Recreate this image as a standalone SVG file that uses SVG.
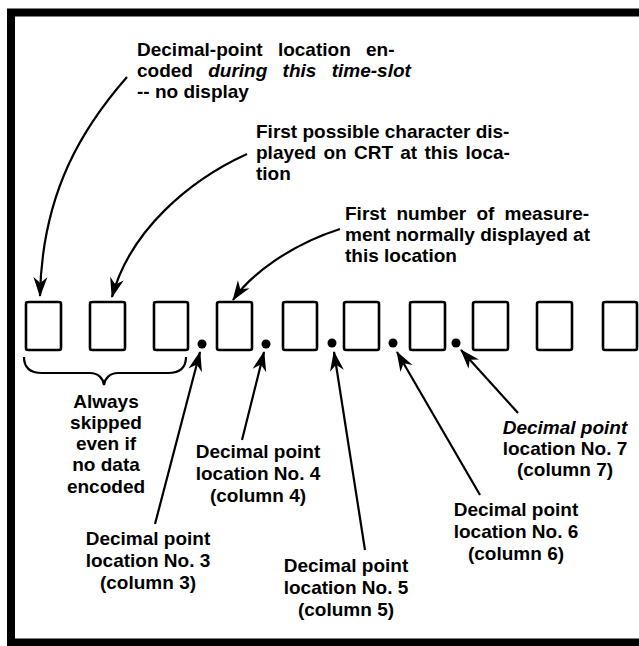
<svg xmlns="http://www.w3.org/2000/svg" width="639" height="646" viewBox="0 0 639 646">
<defs>
<marker id="ah" markerUnits="userSpaceOnUse" viewBox="-22 -9 24 18" refX="0" refY="0" markerWidth="24" markerHeight="18" orient="auto">
<path d="M1,0 L-19,-7 L-13,0 L-19,7 Z" fill="#000"/>
</marker>
</defs>
<style>
.t{font-family:"Liberation Sans",Arial,Helvetica,sans-serif;font-weight:bold;font-size:19px;fill:#000}
.c{text-anchor:middle}
.i{font-style:italic}
.box{fill:none;stroke:#000;stroke-width:2.6}
.ln{fill:none;stroke:#000;stroke-width:2.2}
.dot{fill:#000}
</style>
<rect width="639" height="646" fill="#fff"/>
<g id="frame"><path d="M639,12.5 H11 V642.5 H639" fill="none" stroke="#000" stroke-width="8"/></g>

<g id="box1"><rect class="box" x="26" y="302" width="35" height="48" rx="2"/></g>
<g id="box2"><rect class="box" x="90" y="302" width="35" height="48" rx="2"/></g>
<g id="box3"><rect class="box" x="154" y="302" width="34" height="48" rx="2"/></g>
<g id="box4"><rect class="box" x="217" y="302" width="35" height="48" rx="2"/></g>
<g id="box5"><rect class="box" x="283" y="302" width="34" height="48" rx="2"/></g>
<g id="box6"><rect class="box" x="344" y="302" width="35" height="48" rx="2"/></g>
<g id="box7"><rect class="box" x="410" y="302" width="35" height="48" rx="2"/></g>
<g id="box8"><rect class="box" x="473" y="302" width="35" height="48" rx="2"/></g>
<g id="box9"><rect class="box" x="537" y="302" width="35" height="48" rx="2"/></g>
<g id="box10"><rect class="box" x="603" y="302" width="34" height="48" rx="2"/></g>

<g id="dot3"><circle class="dot" cx="202" cy="344" r="4.5"/></g>
<g id="dot4"><circle class="dot" cx="266" cy="344" r="4.5"/></g>
<g id="dot5"><circle class="dot" cx="332" cy="343" r="4.5"/></g>
<g id="dot6"><circle class="dot" cx="393" cy="343" r="4.5"/></g>
<g id="dot7"><circle class="dot" cx="456" cy="343" r="4.5"/></g>

<g id="brace"><path class="ln" d="M24,357 C24,368 30,373 42,373 L90,373 C98,373 103,378 104,385 C105,378 110,373 118,373 L168,373 C180,373 186,368 186,357"/></g>

<g id="label-encoded">
<text class="t" x="137" y="56" word-spacing="10">Decimal-point location en-</text>
<text class="t" x="137" y="77" word-spacing="10">coded <tspan class="i">during this time-slot</tspan></text>
<text class="t" x="137" y="98">-- no display</text>
</g>
<g id="label-first-char">
<text class="t" x="256" y="138">First possible character dis-</text>
<text class="t" x="256" y="159" word-spacing="2">played on CRT at this loca-</text>
<text class="t" x="256" y="180">tion</text>
</g>
<g id="label-first-number">
<text class="t" x="345" y="220" word-spacing="5">First number of measure-</text>
<text class="t" x="345" y="241">ment normally displayed at</text>
<text class="t" x="345" y="262">this location</text>
</g>
<g id="label-skipped">
<text class="t c" x="106" y="408">Always</text>
<text class="t c" x="106" y="429">skipped</text>
<text class="t c" x="106" y="450">even if</text>
<text class="t c" x="106" y="471">no data</text>
<text class="t c" x="106" y="493">encoded</text>
</g>
<g id="label-dp3">
<text class="t c" x="148" y="545">Decimal point</text>
<text class="t c" x="148" y="567">location No. 3</text>
<text class="t c" x="148" y="589">(column 3)</text>
</g>
<g id="label-dp4">
<text class="t c" x="258" y="458">Decimal point</text>
<text class="t c" x="258" y="480">location No. 4</text>
<text class="t c" x="258" y="502">(column 4)</text>
</g>
<g id="label-dp5">
<text class="t c" x="346" y="572">Decimal point</text>
<text class="t c" x="346" y="594">location No. 5</text>
<text class="t c" x="346" y="616">(column 5)</text>
</g>
<g id="label-dp6">
<text class="t c" x="516" y="516">Decimal point</text>
<text class="t c" x="516" y="538">location No. 6</text>
<text class="t c" x="516" y="560">(column 6)</text>
</g>
<g id="label-dp7">
<text class="t c i" x="565" y="434">Decimal point</text>
<text class="t c" x="565" y="455">location No. 7</text>
<text class="t c" x="565" y="476">(column 7)</text>
</g>

<g id="connectors">
<path class="ln" marker-end="url(#ah)" d="M127,77 C85,125 42,190 40,296"/>
<path class="ln" marker-end="url(#ah)" d="M247,154 C190,180 130,230 112,297"/>
<path class="ln" marker-end="url(#ah)" d="M340,229 C290,245 250,275 233,300"/>
<path class="ln" marker-end="url(#ah)" d="M155,524 L200,352"/>
<path class="ln" marker-end="url(#ah)" d="M242,440 L264,352"/>
<path class="ln" marker-end="url(#ah)" d="M365,550 L334,352"/>
<path class="ln" marker-end="url(#ah)" d="M480,495 L397,352"/>
<path class="ln" marker-end="url(#ah)" d="M518,413 L461,350"/>
</g>
</svg>
